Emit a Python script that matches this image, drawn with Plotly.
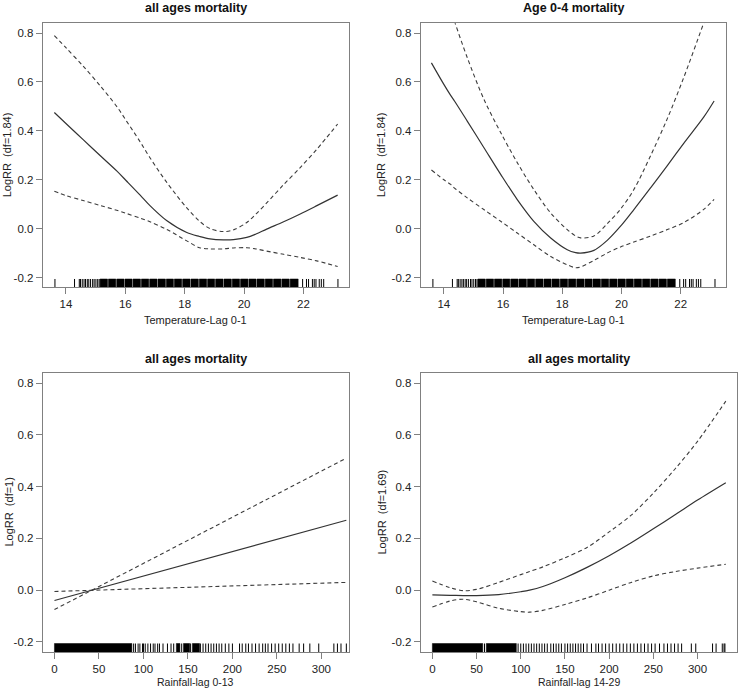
import plotly.graph_objects as go

W, H = 738, 692

# ---------------- data ----------------
# Panel 1: all ages mortality vs Temperature-Lag 0-1
t1_x = [13.61, 14.0, 14.58, 15.15, 15.71, 16.04, 16.5, 16.83, 17.39, 18.07, 18.5,
        18.85, 19.3, 19.64, 20.09, 20.4, 20.76, 21.33, 21.89, 22.45, 23.15]
t1_fit = [0.475, 0.43, 0.364, 0.299, 0.236, 0.195, 0.137, 0.094, 0.033, -0.016, -0.032,
          -0.042, -0.046, -0.045, -0.036, -0.022, -0.002, 0.028, 0.06, 0.094, 0.137]
t1_upper = [0.79, 0.74, 0.665, 0.585, 0.50, 0.44, 0.355, 0.29, 0.19, 0.085, 0.03,
            0.0, -0.012, -0.005, 0.025, 0.06, 0.105, 0.18, 0.25, 0.325, 0.428]
t1_lower = [0.153, 0.135, 0.115, 0.095, 0.075, 0.062, 0.043, 0.028, -0.003, -0.05, -0.078,
            -0.083, -0.083, -0.079, -0.078, -0.083, -0.092, -0.105, -0.118, -0.132, -0.155]

# Panel 2: Age 0-4 mortality vs Temperature-Lag 0-1
t2_x = [13.58, 14.0, 14.23, 14.37, 14.79, 15.35, 15.92, 16.48, 17.04, 17.61, 18.17,
        18.45, 18.62, 19.07, 19.52, 19.97, 20.42, 20.99, 21.55, 22.11, 22.79, 23.13]
t2_fit = [0.678, 0.59, 0.545, 0.52, 0.44, 0.332, 0.222, 0.119, 0.03, -0.038, -0.086,
          -0.098, -0.100, -0.089, -0.048, 0.01, 0.078, 0.168, 0.258, 0.35, 0.458, 0.522]
t2_upper = [1.15, 0.98, 0.9, 0.845, 0.70, 0.53, 0.393, 0.27, 0.16, 0.064, -0.004,
            -0.03, -0.038, -0.03, 0.02, 0.08, 0.16, 0.30, 0.45, 0.62, 0.845, 0.96]
t2_lower = [0.24, 0.2, 0.181, 0.165, 0.126, 0.078, 0.03, -0.018, -0.066, -0.114, -0.148,
            -0.16, -0.157, -0.13, -0.10, -0.075, -0.055, -0.03, -0.004, 0.025, 0.08, 0.12]

# Panel 3: all ages mortality vs Rainfall-lag 0-13 (linear, df=1)
r1_x = [0, 328]
r1_fit = [-0.04, 0.27]
r1_band_a = [-0.075, 0.51]
r1_band_b = [-0.005, 0.03]

# Panel 4: all ages mortality vs Rainfall-lag 14-29
r2_x = [0, 20, 35, 50, 75, 100, 110, 125, 150, 175, 200, 225, 250, 275, 300, 332]
r2_fit = [-0.018, -0.02, -0.021, -0.021, -0.017, -0.006, 0.0, 0.014, 0.048, 0.088,
          0.133, 0.183, 0.237, 0.292, 0.348, 0.415]
r2_upper = [0.035, 0.01, -0.002, 0.003, 0.03, 0.06, 0.072, 0.09, 0.125, 0.165,
            0.225, 0.29, 0.375, 0.47, 0.575, 0.73]
r2_lower = [-0.065, -0.042, -0.035, -0.045, -0.07, -0.083, -0.085, -0.078, -0.055, -0.03,
            0.0, 0.03, 0.055, 0.072, 0.085, 0.1]

# Rug (observed values)
temp_rug_blocks = [(15.15, 15.40), (15.43, 15.68), (15.71, 15.96), (15.99, 16.23),
                   (16.26, 16.51), (16.54, 16.79), (16.82, 17.07), (17.10, 17.35),
                   (17.38, 17.62), (17.65, 17.90), (17.93, 18.18), (18.21, 18.46),
                   (18.49, 18.74), (18.77, 19.01), (19.04, 19.29), (19.32, 19.57),
                   (19.60, 19.85), (19.88, 20.13), (20.16, 20.40), (20.43, 20.68),
                   (20.71, 20.96), (20.99, 21.24), (21.27, 21.52), (21.55, 21.82)]
temp_rug_lines = [13.63, 14.29, 14.45, 14.49, 14.55, 14.61, 14.66, 14.72, 14.77, 14.83,
                  14.90, 14.95, 15.01, 15.07, 15.12, 21.97, 22.1, 22.17, 22.3, 22.36,
                  22.42, 22.53, 22.6, 22.68, 23.16]

rain1_rug_blocks = [(0, 87), (137, 141), (145, 152), (155, 163)]
rain1_rug_lines = [89, 91, 94, 96, 99, 100, 102, 105, 108, 111, 113, 116, 118, 122, 127,
                   131, 134, 143, 153, 164, 167, 170, 173, 176, 179, 182, 185, 188, 192,
                   196, 200, 208, 211, 215, 218, 222, 226, 230, 234, 237, 240, 244, 248,
                   252, 256, 260, 264, 268, 275, 280, 287, 297, 314, 318, 322, 328]

rain2_rug_blocks = [(0, 57), (61, 95)]
rain2_rug_lines = [59, 97, 100, 103, 106, 109, 112, 115, 118, 121, 124, 127, 130, 134,
                   137, 140, 143, 146, 150, 153, 156, 159, 162, 165, 168, 171, 175, 180,
                   185, 188, 192, 196, 200, 204, 208, 212, 216, 220, 224, 228, 232, 236,
                   240, 244, 248, 252, 257, 262, 266, 270, 274, 278, 282, 293, 298, 317,
                   321, 328, 330, 331]

titles = ["all ages mortality", "Age 0-4 mortality", "all ages mortality", "all ages mortality"]
x_titles = ["Temperature-Lag 0-1", "Temperature-Lag 0-1", "Rainfall-lag 0-13", "Rainfall-lag 14-29"]
y_titles = ["LogRR\u00a0\u00a0(df=1.84)", "LogRR\u00a0\u00a0(df=1.84)", "LogRR\u00a0\u00a0(df=1)", "LogRR\u00a0\u00a0(df=1.69)"]
y_tickvals = [-0.2, 0.0, 0.2, 0.4, 0.6, 0.8]
y_ticktext = ["-0.2", "0.0", "0.2", "0.4", "0.6", "0.8"]
temp_tickvals = [14, 16, 18, 20, 22]
rain_tickvals = [0, 50, 100, 150, 200, 250, 300]

# ---------------- layout geometry (pixels) ----------------
FONT = "Liberation Sans, Arial, sans-serif"
RUG_BASE, RUG_TOP = -0.24, -0.206
SOLID = "#333333"
DASHED = "#3c3c3c"
FRAME = "#808080"

panels = [
    dict(px=(42.7, 349.0), py=(23.3, 287.3), xr=[13.218, 23.532], ticks=temp_tickvals,
         x=t1_x, fit=t1_fit, b1=t1_upper, b2=t1_lower, shape="spline",
         blocks=temp_rug_blocks, lines=temp_rug_lines,
         title_y=8, xt_y=320, yt_x=7, xt_size=11),
    dict(px=(420.7, 726.0), py=(23.3, 287.3), xr=[13.218, 23.532], ticks=temp_tickvals,
         x=t2_x, fit=t2_fit, b1=t2_upper, b2=t2_lower, shape="spline",
         blocks=temp_rug_blocks, lines=temp_rug_lines,
         title_y=8, xt_y=320, yt_x=381, xt_size=11),
    dict(px=(42.7, 349.0), py=(372.7, 652.3), xr=[-13.2, 331.0], ticks=rain_tickvals,
         x=r1_x, fit=r1_fit, b1=r1_band_a, b2=r1_band_b, shape="linear",
         blocks=rain1_rug_blocks, lines=rain1_rug_lines,
         title_y=359, xt_y=682, yt_x=8, xt_size=10.5),
    dict(px=(420.7, 737.3), py=(372.7, 652.3), xr=[-13.2, 345.0], ticks=rain_tickvals,
         x=r2_x, fit=r2_fit, b1=r2_upper, b2=r2_lower, shape="spline",
         blocks=rain2_rug_blocks, lines=rain2_rug_lines,
         title_y=359, xt_y=682, yt_x=381, xt_size=10.5),
]

fig = go.Figure()
layout = dict(width=W, height=H, margin=dict(l=0, r=0, t=0, b=0),
              paper_bgcolor="white", plot_bgcolor="white", showlegend=False,
              font=dict(family=FONT, color="#222222"))
annotations = []

for i, p in enumerate(panels):
    n = "" if i == 0 else str(i + 1)
    xa, ya = "x" + n, "y" + n
    # main curves
    fig.add_trace(go.Scatter(x=p["x"], y=p["fit"], mode="lines", xaxis=xa, yaxis=ya,
                             line=dict(color=SOLID, width=1.2, shape=p["shape"], smoothing=0.9),
                             hoverinfo="skip"))
    for band in (p["b1"], p["b2"]):
        fig.add_trace(go.Scatter(x=p["x"], y=band, mode="lines", xaxis=xa, yaxis=ya,
                                 line=dict(color=DASHED, width=1.1, dash="4px,3px",
                                           shape=p["shape"], smoothing=0.9),
                                 hoverinfo="skip"))
    # rug blocks
    bx, by = [], []
    for a, b in p["blocks"]:
        bx += [a, b, b, a, a, None]
        by += [RUG_BASE, RUG_BASE, RUG_TOP, RUG_TOP, RUG_BASE, None]
    fig.add_trace(go.Scatter(x=bx, y=by, mode="lines", fill="toself", fillcolor="black",
                             line=dict(color="black", width=0.5), xaxis=xa, yaxis=ya,
                             hoverinfo="skip"))
    # rug lines
    lx, ly = [], []
    for v in p["lines"]:
        lx += [v, v, None]
        ly += [RUG_BASE, RUG_TOP, None]
    fig.add_trace(go.Scatter(x=lx, y=ly, mode="lines", line=dict(color="black", width=1),
                             xaxis=xa, yaxis=ya, hoverinfo="skip"))

    x0, x1 = p["px"]
    y0, y1 = p["py"]
    layout["xaxis" + n] = dict(domain=[x0 / W, x1 / W], range=p["xr"], anchor=ya,
                               showgrid=False, zeroline=False, showline=True, mirror=True,
                               linecolor=FRAME, linewidth=1, ticks="outside", ticklen=6,
                               tickcolor=FRAME, tickvals=p["ticks"],
                               tickfont=dict(size=11.5, family=FONT, color="#222222"))
    layout["yaxis" + n] = dict(domain=[1 - y1 / H, 1 - y0 / H], range=[-0.24, 0.84],
                               anchor=xa, showgrid=False, zeroline=False, showline=True,
                               mirror=True, linecolor=FRAME, linewidth=1, ticks="outside",
                               ticklen=6, tickcolor=FRAME, tickvals=y_tickvals,
                               ticktext=y_ticktext,
                               tickfont=dict(size=11.5, family=FONT, color="#222222"))
    cx = (x0 + x1) / 2
    cy = (y0 + y1) / 2
    annotations.append(dict(text="<b>" + titles[i] + "</b>", x=cx / W, y=1 - p["title_y"] / H,
                            xref="paper", yref="paper", showarrow=False,
                            xanchor="center", yanchor="middle",
                            font=dict(size=12.5, family=FONT, color="#111111")))
    annotations.append(dict(text=x_titles[i], x=cx / W, y=1 - p["xt_y"] / H,
                            xref="paper", yref="paper", showarrow=False,
                            xanchor="center", yanchor="middle",
                            font=dict(size=p["xt_size"], family=FONT, color="#222222")))
    annotations.append(dict(text=y_titles[i], x=p["yt_x"] / W, y=1 - cy / H,
                            xref="paper", yref="paper", showarrow=False, textangle=-90,
                            xanchor="center", yanchor="middle",
                            font=dict(size=11, family=FONT, color="#222222")))

layout["annotations"] = annotations
fig.update_layout(**layout)
fig.write_html("out.html", config={"displayModeBar": False},
               post_script="document.body.style.margin='0';document.body.style.overflow='hidden';")
